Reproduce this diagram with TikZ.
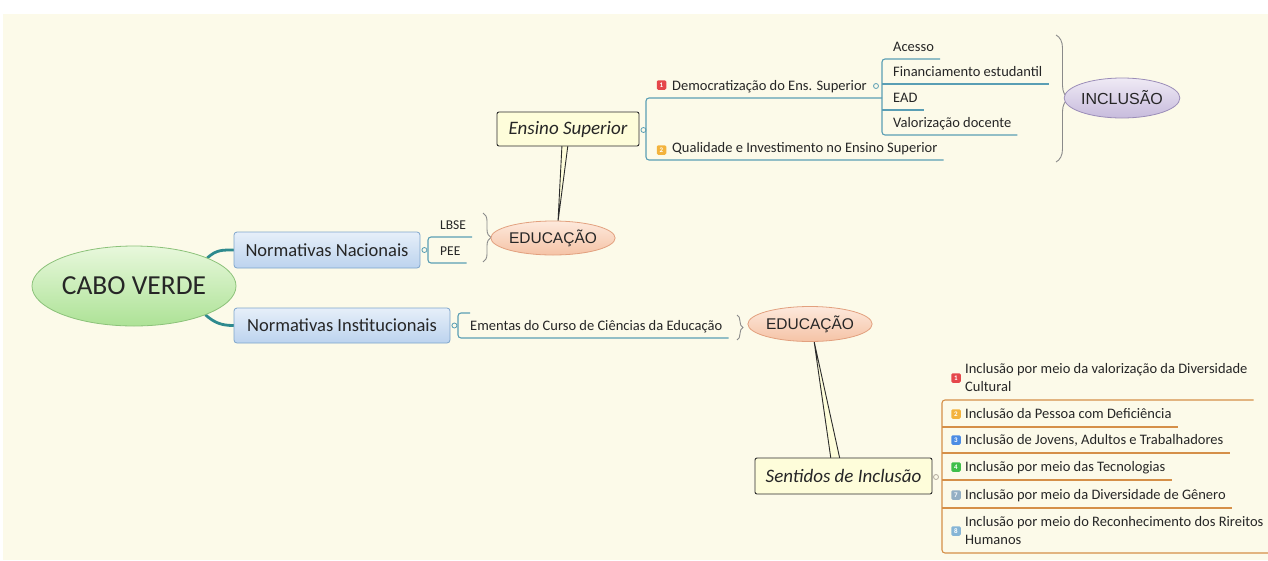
\documentclass[tikz,border=0pt]{standalone}
\usepackage{fontspec}
\setmainfont{Carlito}
\newfontfamily\capsfont{Liberation Sans}
\usetikzlibrary{shapes.geometric,calc,decorations.pathreplacing}
\pgfdeclarelayer{bg}
\pgfdeclarelayer{mid}
\pgfsetlayers{bg,mid,main}

\definecolor{paper}{HTML}{FCFAE9}
\definecolor{ink}{HTML}{262626}
\definecolor{tealline}{HTML}{5A9EB4}
\definecolor{orangeline}{HTML}{D58F48}
\definecolor{stemteal}{HTML}{2E8A8E}
\definecolor{bracegrey}{HTML}{8A8A8A}
\definecolor{cabotop}{HTML}{E8F8DC}
\definecolor{cabobot}{HTML}{ADE296}
\definecolor{caboline}{HTML}{8CC27A}
\definecolor{nntop}{HTML}{E6EFF9}
\definecolor{nnbot}{HTML}{BCD3EE}
\definecolor{nnline}{HTML}{7EA5CC}
\definecolor{edutop}{HTML}{FDE9DC}
\definecolor{edubot}{HTML}{F5C3A6}
\definecolor{eduline}{HTML}{E2A07E}
\definecolor{incltop}{HTML}{EFEAF5}
\definecolor{inclbot}{HTML}{C7BBDC}
\definecolor{inclline}{HTML}{9B8DB8}
\definecolor{calfill}{HTML}{FEFDDA}
\definecolor{calline}{HTML}{2B2B2B}
\definecolor{tagred}{HTML}{E5474B}
\definecolor{tagorange}{HTML}{F3B33D}
\definecolor{tagblue}{HTML}{4C8CE4}
\definecolor{taggreen}{HTML}{3FBF4A}
\definecolor{taggrey}{HTML}{93AFC4}
\definecolor{tagsky}{HTML}{86B5D6}
\definecolor{knobgrey}{HTML}{B0A89A}

\begin{document}
\begin{tikzpicture}[x=1pt,y=-1pt,
  every node/.style={text=ink},
  leaf/.style={anchor=south west, inner xsep=6pt, inner ysep=0pt, text depth=7pt,
    font=\fontsize{14.5}{18}\selectfont},
  sleaf/.style={leaf, text depth=8pt, align=left},
  smallleaf/.style={leaf, font=\fontsize{13.5}{15}\selectfont},
  tline/.style={draw=tealline, line width=1.1pt, rounded corners=3pt},
  sline/.style={draw=orangeline, line width=1.1pt, rounded corners=3pt},
  stem/.style={draw=stemteal, line width=2.8pt, line cap=round},
  knob/.style={circle, draw=tealline, fill=paper, line width=0.8pt, minimum size=5pt, inner sep=0pt},
  numtag/.style={rectangle, rounded corners=1.3pt, minimum size=9.5pt, inner sep=0pt,
    text=white, font=\fontsize{7}{7}\selectfont\bfseries},
  normbox/.style={rectangle, rounded corners=3pt, draw=nnline, line width=0.8pt,
    top color=nntop, bottom color=nnbot, inner sep=0pt, font=\fontsize{18.5}{20}\selectfont},
  eduoval/.style={ellipse, draw=eduline, line width=0.8pt, top color=edutop, bottom color=edubot,
    inner sep=0pt, font=\capsfont\fontsize{15.5}{17}\selectfont},
  callout/.style={rectangle, rounded corners=2pt, draw=calline, line width=0.9pt, fill=calfill,
    inner sep=0pt, font=\fontsize{19}{21}\selectfont\itshape},
  tail/.style={draw=calline, fill=calfill, line width=0.9pt, line join=miter},
  bracestyle/.style={draw=bracegrey, line width=0.9pt, decorate},
]
\useasboundingbox (0,0) rectangle (1268,560);
\begin{pgfonlayer}{bg}
  \fill[white] (0,0) rectangle (1268,560);
  \fill[paper] (3,14) rectangle (1268,560);
\end{pgfonlayer}

% central topic and its two main branches
\node[ellipse, draw=caboline, line width=0.8pt, top color=cabotop, bottom color=cabobot,
  minimum width=202pt, minimum height=80pt, inner sep=0pt,
  font=\fontsize{27.5}{30}\selectfont] (cabo) at (134,286) {CABO VERDE};
\node[normbox, minimum width=186pt, minimum height=36pt] (nn) at (327,250) {Normativas Nacionais};
\node[normbox, minimum width=216pt, minimum height=35pt] (ni) at (342,325.5) {Normativas Institucionais};

\begin{pgfonlayer}{mid}
  \draw[stem] (cabo.21) .. controls +(9,-8) and +(-12,0) .. (nn.west);
  \draw[stem] (cabo.-22) .. controls +(9,8) and +(-12,0) .. (ni.west);
\end{pgfonlayer}

% national norms
\node[smallleaf] (lbse) at (434,237) {LBSE};
\node[smallleaf] (pee) at (434,263) {PEE};
\draw[tline] (lbse.south east) -- ($(lbse.south west)+(-6,0)$) -- ($(pee.south west)+(-6,0)$) -- (pee.south east);
\node[knob] (nnk) at ($(nn.east)+(4,0)$) {};
\coordinate (b1top) at (483,213);
\coordinate (b1bot) at (483,262);
\draw[bracestyle, decoration={brace, amplitude=8pt}] (b1top) -- (b1bot);
\node[eduoval, minimum width=114pt, minimum height=34pt] (edu1) at (553,238) {EDUCAÇÃO};

% higher education callout
\node[callout, minimum width=142pt, minimum height=34pt] (ensino) at (568,129) {Ensino Superior};
\begin{pgfonlayer}{mid}
  \draw[tail] ($(ensino.south)+(-6,-2)$) -- ($(edu1.north)+(5,1)$) -- ($(ensino.south)+(0,-2)$);
\end{pgfonlayer}
\node[knob] (ensk) at ($(ensino.east)+(4,1)$) {};

\node[leaf] (dem) at (666,98) {Democratização do Ens. Superior};
\node[leaf] (qual) at (666,160) {Qualidade e Investimento no Ensino Superior};
\node[numtag, fill=tagred] (demtag) at (661.5,85) {1};
\node[numtag, fill=tagorange] (qualtag) at (661.5,150) {2};
\node[knob] (demk) at (876,86) {};

\node[leaf] (acc) at (887,59) {Acesso};
\node[leaf] (fin) at (887,84) {Financiamento estudantil};
\node[leaf] (ead) at (887,110) {EAD};
\node[leaf] (val) at (887,135) {Valorização docente};

\coordinate (esT) at (646,98);
\coordinate (esB) at (646,160);
\coordinate (dsp) at (882,98);
\draw[tline] (dsp) -- (esT) -- (esB) -- (qual.south east);
\draw[tline] (acc.south east) -- ($(acc.south west)+(-5,0)$) -- ($(val.south west)+(-5,0)$) -- (val.south east);
\draw[tline] ($(fin.south west)+(-5,0)$) -- (fin.south east);
\draw[tline] ($(ead.south west)+(-5,0)$) -- (ead.south east);

\coordinate (b2top) at (1056,35);
\coordinate (b2bot) at (1056,162);
\draw[bracestyle, decoration={brace, amplitude=13pt}] (b2top) -- (b2bot);
\node[ellipse, draw=inclline, line width=0.8pt, top color=incltop, bottom color=inclbot,
  minimum width=102pt, minimum height=40pt, inner sep=0pt,
  font=\capsfont\fontsize{16}{18}\selectfont] (incl) at (1122,98) {INCLUSÃO};

% institutional norms
\node[knob] (nik) at ($(ni.east)+(4,0)$) {};
\node[leaf] (em) at (464,338) {Ementas do Curso de Ciências da Educação};
\coordinate (emStub) at (470,313);
\coordinate (emTop) at (458,313);
\draw[tline] (emStub) -- (emTop) -- ($(em.south west)+(-6,0)$) -- (em.south east);
\coordinate (b3top) at (737,315);
\coordinate (b3bot) at (737,340);
\draw[bracestyle, decoration={brace, amplitude=6pt}] (b3top) -- (b3bot);
\node[eduoval, minimum width=110pt, minimum height=35pt] (edu2) at (810,324) {EDUCAÇÃO};

% senses of inclusion callout
\node[callout, minimum width=177pt, minimum height=36pt] (sent) at (843.5,476) {Sentidos de Inclusão};
\begin{pgfonlayer}{mid}
  \draw[tail] ($(sent.north)+(-12.5,2)$) -- ($(edu2.south)+(4,-1)$) -- ($(sent.north)+(-3.5,2)$);
\end{pgfonlayer}
\node[knob, draw=knobgrey] (sentk) at (936,477) {};

\node[sleaf] (s1) at (959,400) {Inclusão por meio da valorização da Diversidade\\Cultural};
\node[sleaf] (s2) at (959,427) {Inclusão da Pessoa com Deficiência};
\node[sleaf] (s3) at (959,453) {Inclusão de Jovens, Adultos e Trabalhadores};
\node[sleaf] (s4) at (959,480) {Inclusão por meio das Tecnologias};
\node[sleaf] (s5) at (959,508) {Inclusão por meio da Diversidade de Gênero};
\node[sleaf] (s6) at (959,553) {Inclusão por meio do Reconhecimento dos Rireitos\\Humanos};

\node[numtag, fill=tagred] (t1) at (956,378) {1};
\node[numtag, fill=tagorange] (t2) at (956,414) {2};
\node[numtag, fill=tagblue] (t3) at (956,440) {3};
\node[numtag, fill=taggreen] (t4) at (956,467) {4};
\node[numtag, fill=taggrey] (t5) at (956,495) {7};
\node[numtag, fill=tagsky] (t6) at (956,531) {8};

\coordinate (sT) at (942,400);
\coordinate (sB) at (942,553);
\draw[sline] (s1.south east) -- (sT) -- (sB) -- (s6.south east);
\draw[sline] ($(s2.south west)+(-17,0)$) -- (s2.south east);
\draw[sline] ($(s3.south west)+(-17,0)$) -- (s3.south east);
\draw[sline] ($(s4.south west)+(-17,0)$) -- (s4.south east);
\draw[sline] ($(s5.south west)+(-17,0)$) -- (s5.south east);
\end{tikzpicture}
\end{document}
